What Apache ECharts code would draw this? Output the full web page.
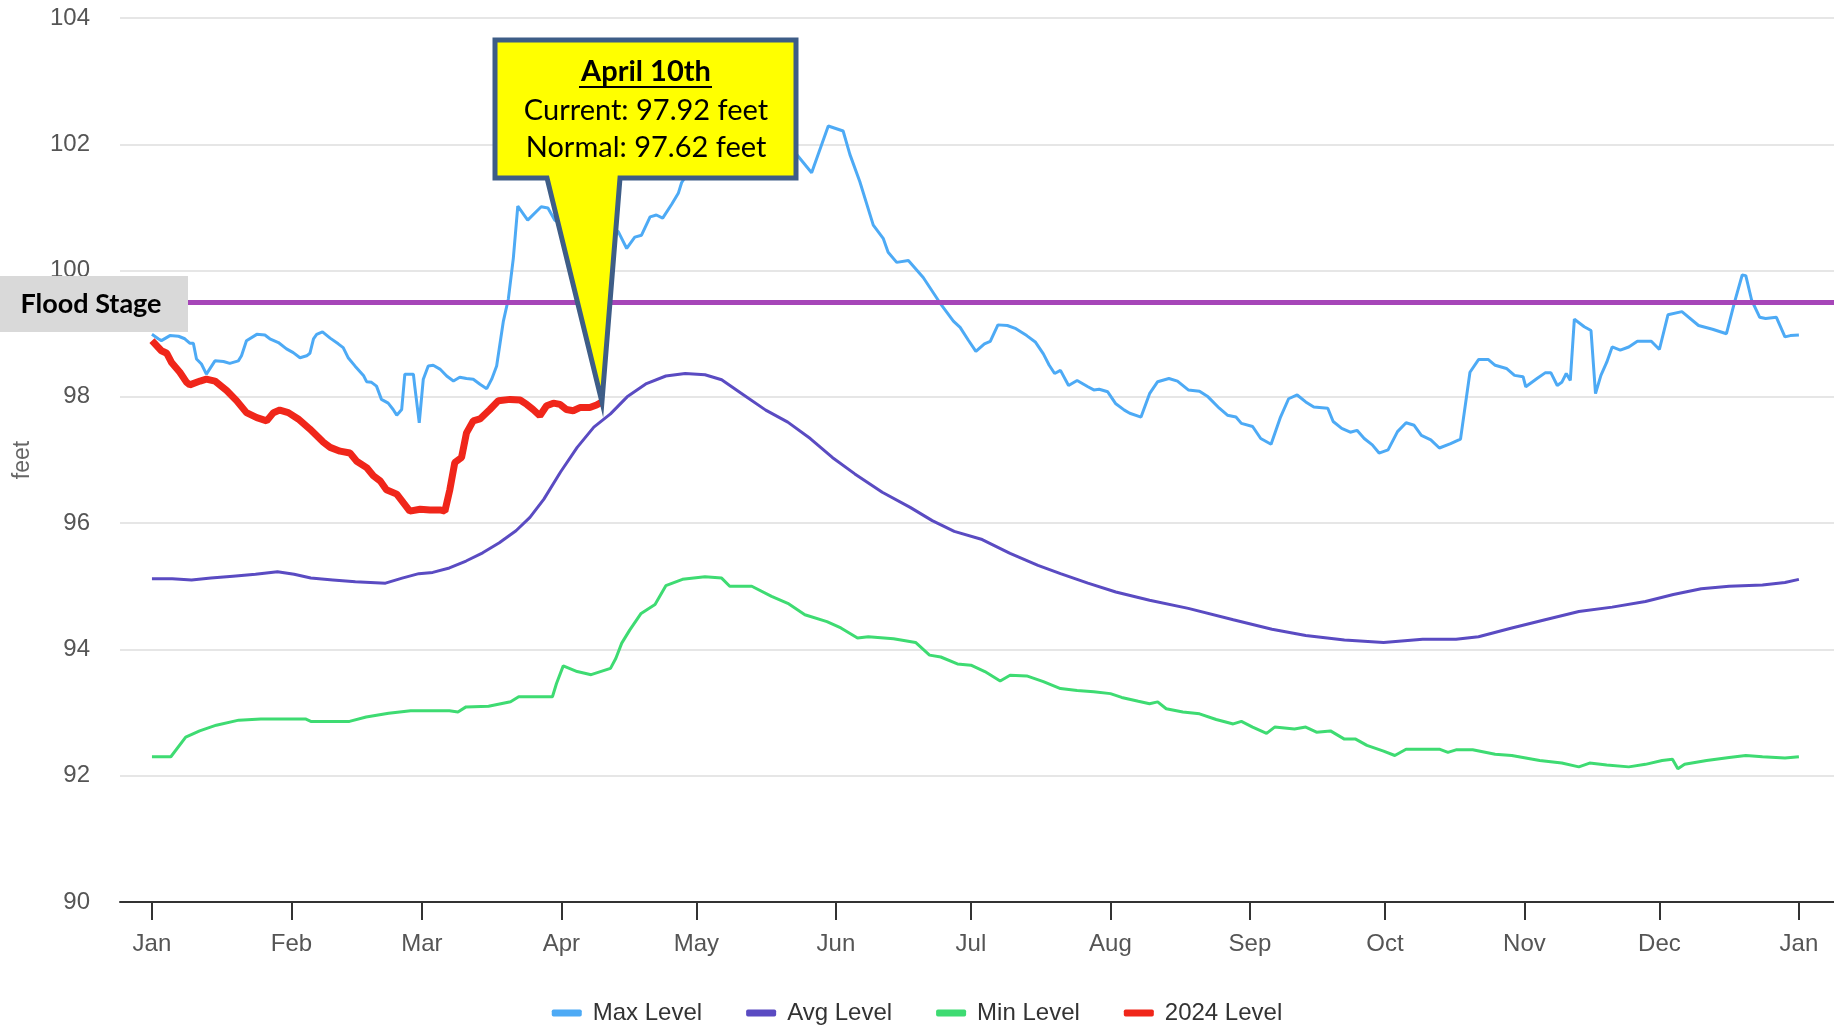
<!DOCTYPE html>
<html>
<head>
<meta charset="utf-8">
<script src="https://cdn.jsdelivr.net/npm/echarts@6/dist/echarts.min.js"></script>
<style>
    html, body { margin: 0; padding: 0; background: #fff; }
    #chart { width: 1834px; height: 1025px; }
</style>
</head>
<body>
<div id="chart"></div>
<script>
// day of year (0 = Jan 1, 2024 is a leap year) and level in feet
const monthStarts = [0, 31, 60, 91, 121, 152, 182, 213, 244, 274, 305, 335, 366];
const monthLabels = ['Jan', 'Feb', 'Mar', 'Apr', 'May', 'Jun', 'Jul', 'Aug', 'Sep', 'Oct', 'Nov', 'Dec', 'Jan'];
const floodStage = 99.5;
const calloutDay = 100;
const calloutValue = 97.92;

const maxLevel = [
    [0, 98.99], [1.4, 98.92], [2.1, 98.89], [4, 98.97], [5.9, 98.96], [7.3, 98.92], [8.4, 98.85], [9.2, 98.85],
    [9.9, 98.6], [11, 98.52], [12.1, 98.36], [14, 98.57], [15.9, 98.56], [17.3, 98.53], [19.2, 98.57], [19.9, 98.65],
    [21, 98.89], [23.3, 98.99], [25.1, 98.98], [26.2, 98.92], [28.1, 98.86], [29.9, 98.76], [31.4, 98.7], [32.9, 98.62],
    [34.4, 98.65], [35.1, 98.69], [35.9, 98.92], [36.6, 98.99], [37.9, 99.03], [39.6, 98.93], [41.4, 98.84], [42.5, 98.78],
    [43.6, 98.62], [45.1, 98.49], [47, 98.34], [47.7, 98.24], [48.8, 98.23], [49.9, 98.17], [51, 97.96], [52.5, 97.9],
    [53.6, 97.8], [54.4, 97.71], [55.5, 97.8], [56.2, 98.36], [58.1, 98.36], [58.4, 98.17], [59.4, 97.59], [60.3, 98.28],
    [61.4, 98.49], [62.5, 98.5], [64, 98.44], [65.5, 98.33], [67, 98.25], [68.4, 98.31], [69.9, 98.29], [71.4, 98.28],
    [72.9, 98.2], [74.4, 98.13], [75.5, 98.28], [76.6, 98.49], [78.1, 99.2], [79.2, 99.55], [80.3, 100.19], [81.3, 101.02],
    [83.5, 100.8], [86.5, 101.01], [88, 100.99], [89.5, 100.8], [95, 100.6], [100, 100.7], [103.6, 100.62], [105.5, 100.35],
    [107.3, 100.53], [108.8, 100.56], [110.7, 100.85], [112.1, 100.88], [113.5, 100.83], [115.5, 101.05], [117, 101.23],
    [117.7, 101.39], [118.4, 101.47], [121, 101.7], [125, 101.85], [129, 101.95], [133, 102.1], [137, 102.0], [140, 101.9],
    [142, 101.95], [146.6, 101.55], [150.3, 102.29], [153.6, 102.21], [155.1, 101.84], [157.3, 101.41], [160.3, 100.72],
    [162.5, 100.51], [163.6, 100.29], [165.5, 100.13], [168.1, 100.16], [171.4, 99.89], [175.1, 99.49], [178.1, 99.2],
    [179.6, 99.1], [181.4, 98.9], [183.1, 98.72], [185, 98.84], [186.3, 98.88], [188, 99.14], [190.1, 99.13], [192, 99.08],
    [194.4, 98.97], [196.3, 98.87], [198.1, 98.68], [199.4, 98.5], [200.6, 98.37], [201.9, 98.42], [203.7, 98.18],
    [205.6, 98.26], [208, 98.16], [209.3, 98.11], [210.5, 98.12], [212.4, 98.08], [214.2, 97.89], [216.1, 97.79],
    [217.3, 97.74], [219.8, 97.68], [221.7, 98.05], [223.5, 98.24], [226, 98.29], [227.9, 98.25], [230.3, 98.11],
    [232.8, 98.09], [234.7, 98], [237.2, 97.82], [239, 97.71], [240.9, 97.68], [242.1, 97.58], [244.6, 97.53],
    [246.4, 97.34], [248.7, 97.25], [250.8, 97.68], [252.6, 97.97], [254.5, 98.03], [256.4, 97.92], [258.2, 97.84],
    [261.3, 97.82], [262.5, 97.61], [264.4, 97.5], [266.3, 97.44], [267.8, 97.47], [269.4, 97.34], [271.2, 97.24],
    [272.7, 97.11], [274.7, 97.16], [276.8, 97.45], [278.7, 97.59], [280.5, 97.55], [282.1, 97.39], [284.2, 97.32],
    [286.1, 97.19], [288.6, 97.26], [290.8, 97.33], [292.9, 98.39], [294.8, 98.59], [297, 98.59], [298.5, 98.5],
    [301, 98.45], [302.8, 98.34], [304.7, 98.32], [305.3, 98.16], [307.8, 98.29], [309.6, 98.38], [310.9, 98.38],
    [312.3, 98.18], [313.3, 98.23], [314.3, 98.37], [315.2, 98.26], [316.1, 99.23], [318.3, 99.11], [319.8, 99.05],
    [320.8, 98.05], [322, 98.34], [323.3, 98.55], [324.5, 98.79], [326.3, 98.74], [328.2, 98.79], [330.1, 98.88],
    [333.2, 98.88], [335, 98.75], [336.9, 99.3], [340, 99.35], [343.7, 99.13], [346.8, 99.07], [349.9, 99],
    [351.7, 99.5], [353.4, 99.93], [354.2, 99.92], [355.5, 99.53], [357.3, 99.26], [358.6, 99.24], [361, 99.26],
    [362.9, 98.95], [364.1, 98.97], [366, 98.98]
];

const avgLevel = [
    [0, 95.12], [4.5, 95.12], [8.8, 95.1], [13.1, 95.13], [18, 95.16], [23, 95.19], [27.9, 95.23], [31.6, 95.19],
    [35.3, 95.13], [40.2, 95.1], [45.2, 95.07], [51.9, 95.05], [55.6, 95.13], [59.3, 95.2], [62.4, 95.22], [66.1, 95.29],
    [69.8, 95.4], [73.5, 95.53], [77.2, 95.69], [80.9, 95.88], [84, 96.09], [87.1, 96.38], [90.8, 96.81], [94.5, 97.2],
    [98.2, 97.52], [101.9, 97.73], [105.6, 98.0], [109.9, 98.21], [114.2, 98.33], [118.5, 98.37], [122.9, 98.35],
    [126.6, 98.27], [131.5, 98.03], [136.4, 97.79], [141.3, 97.6], [146.3, 97.34], [151.2, 97.04], [156.2, 96.78],
    [162.3, 96.49], [168.5, 96.25], [173.4, 96.04], [178.3, 95.87], [184.5, 95.74], [190.7, 95.52], [196.9, 95.33],
    [201.9, 95.2], [208, 95.05], [214.2, 94.91], [221.7, 94.78], [230.3, 94.65], [240.3, 94.47], [248.9, 94.32],
    [256.4, 94.22], [265, 94.15], [273.7, 94.11], [282.4, 94.16], [289.8, 94.16], [294.8, 94.2], [302.2, 94.34],
    [309.6, 94.47], [317.1, 94.6], [324.5, 94.67], [331.9, 94.76], [338.1, 94.87], [344.3, 94.96], [350.5, 95.0],
    [357.9, 95.02], [362.9, 95.06], [366, 95.11]
];

const minLevel = [
    [0, 92.3], [4.2, 92.3], [7.5, 92.61], [10.6, 92.71], [14.3, 92.8], [19.3, 92.88], [24.2, 92.9], [34.1, 92.9],
    [35.3, 92.86], [43.9, 92.86], [47.6, 92.93], [52.6, 92.99], [57.5, 93.03], [66.1, 93.03], [68, 93.01], [69.8, 93.09],
    [74.8, 93.1], [79.7, 93.17], [81.5, 93.25], [89, 93.25], [89.9, 93.46], [91.4, 93.74], [94.5, 93.65], [97.6, 93.6],
    [101.9, 93.7], [103.1, 93.86], [104.4, 94.1], [106.2, 94.31], [108.7, 94.57], [111.8, 94.71], [114.2, 95.01],
    [117.9, 95.11], [122.9, 95.15], [126.6, 95.13], [128.4, 95.0], [133.3, 95.0], [137.7, 94.84], [141.3, 94.73],
    [145.1, 94.55], [150, 94.44], [153.1, 94.34], [156.8, 94.18], [159.2, 94.2], [164.8, 94.17], [169.7, 94.11],
    [172.8, 93.91], [175.3, 93.88], [179, 93.77], [182, 93.75], [185.1, 93.65], [188.5, 93.5], [190.7, 93.59],
    [194.4, 93.58], [198.1, 93.49], [201.9, 93.38], [205.6, 93.35], [209.3, 93.33], [213, 93.3], [215.5, 93.24],
    [219.2, 93.18], [221.7, 93.14], [223.5, 93.17], [225.4, 93.06], [229.1, 93.01], [232.8, 92.98], [236.5, 92.89],
    [240.3, 92.82], [242.1, 92.86], [244.6, 92.77], [247.7, 92.67], [249.5, 92.77], [253.9, 92.74], [256.4, 92.77],
    [258.8, 92.69], [261.9, 92.71], [265, 92.58], [267.5, 92.58], [270, 92.48], [273.7, 92.39], [276.2, 92.32],
    [278.7, 92.42], [282.4, 92.42], [286.1, 92.42], [288, 92.37], [289.8, 92.41], [293.5, 92.41], [298.5, 92.34],
    [302.2, 92.32], [308.4, 92.24], [313.3, 92.2], [317.1, 92.14], [319.5, 92.2], [323.3, 92.17], [328.2, 92.14],
    [331.9, 92.18], [335.6, 92.24], [337.9, 92.26], [339.1, 92.11], [340.6, 92.18], [345.5, 92.24], [350.5, 92.29],
    [354.2, 92.32], [357.9, 92.3], [362.9, 92.28], [366, 92.3]
];

const level2024 = [
    [0, 98.89], [2.1, 98.73], [3.3, 98.69], [4.4, 98.54], [6.2, 98.39], [7.7, 98.23], [8.4, 98.19], [10.7, 98.25],
    [12.1, 98.28], [14, 98.25], [16.6, 98.1], [18.8, 97.94], [21, 97.75], [23.3, 97.67], [25.5, 97.62], [27, 97.75],
    [28.4, 97.79], [30.3, 97.75], [32.5, 97.65], [35.1, 97.49], [38.1, 97.28], [39.6, 97.2], [41.8, 97.14], [44, 97.11],
    [45.5, 96.98], [47.7, 96.88], [49.2, 96.75], [50.7, 96.67], [52.1, 96.53], [54.4, 96.46], [55.9, 96.32], [57.3, 96.19],
    [59.6, 96.22], [61.8, 96.21], [64, 96.21], [65.1, 96.19], [66.2, 96.53], [67.3, 96.96], [68.8, 97.04], [69.9, 97.43],
    [71.4, 97.62], [72.9, 97.65], [75.1, 97.8], [77, 97.94], [79.6, 97.96], [81.8, 97.95], [83.3, 97.88], [84.7, 97.8],
    [86.2, 97.7], [87.7, 97.86], [89.2, 97.9], [90.7, 97.88], [92.1, 97.8], [93.6, 97.78], [95.1, 97.83], [97.3, 97.83],
    [98.8, 97.87], [100, 97.92]
];

const chart = echarts.init(document.getElementById('chart'));
chart.setOption({
    animation: false,
    textStyle: { fontFamily: 'Liberation Sans' },
    color: ['#4daaf5', '#5a4bc2', '#3edb72', '#f0261a'],
    grid: { left: 120, right: 0, top: 18, bottom: 123, containLabel: false, outerBoundsMode: 'none' },
    legend: {
        top: 996,
        left: 'center',
        icon: 'roundRect',
        itemWidth: 30,
        itemHeight: 7,
        itemGap: 44,
        textStyle: { fontSize: 24, color: '#333', padding: [0, 0, 0, 6] }
    },
    xAxis: {
        type: 'value',
        min: -7.1,
        max: 373.8,
        axisLine: { show: true, lineStyle: { color: '#333', width: 2 } },
        axisTick: { show: true, customValues: monthStarts, length: 18, lineStyle: { color: '#333', width: 2 } },
        axisLabel: {
            customValues: monthStarts,
            formatter: v => monthLabels[monthStarts.indexOf(v)],
            fontSize: 24,
            color: '#555',
            margin: 30
        },
        splitLine: { show: false }
    },
    yAxis: {
        type: 'value',
        min: 90,
        max: 104,
        interval: 2,
        name: 'feet',
        nameLocation: 'middle',
        nameGap: 86,
        nameTextStyle: { fontSize: 23, color: '#666' },
        axisLine: { show: false },
        axisTick: { show: false },
        axisLabel: { fontSize: 24, color: '#555', margin: 30 },
        splitLine: { lineStyle: { color: '#e6e6e6', width: 2 } }
    },
    series: [
        { name: 'Max Level', type: 'line', data: maxLevel, showSymbol: false, lineStyle: { width: 3 } },
        { name: 'Avg Level', type: 'line', data: avgLevel, showSymbol: false, lineStyle: { width: 3 } },
        { name: 'Min Level', type: 'line', data: minLevel, showSymbol: false, lineStyle: { width: 3 } },
        {
            name: '2024 Level', type: 'line', data: level2024, showSymbol: false, z: 5,
            lineStyle: { width: 7 },
            markLine: {
                silent: true,
                symbol: ['none', 'none'],
                label: { show: false },
                lineStyle: { color: '#a646b8', width: 5, type: 'solid' },
                data: [{ yAxis: floodStage }]
            }
        }
    ]
});

// callout pointing at the last 2024 reading
const tip = chart.convertToPixel({ xAxisIndex: 0, yAxisIndex: 0 }, [calloutDay, calloutValue]);
const box = { left: 495, right: 796, top: 40, bottom: 178 };
chart.setOption({
    graphic: [
        { type: 'rect', z: 100, shape: { x: 0, y: 276, width: 188, height: 56 }, style: { fill: '#d9d9d9' } },
        {
            type: 'text', z: 101,
            style: { text: 'Flood Stage', x: 91, y: 304, textAlign: 'center', textVerticalAlign: 'middle',
                font: 'bold 27px Lato', fill: '#000' }
        },
        {
            type: 'polygon', z: 100,
            shape: {
                points: [
                    [box.left, box.top], [box.right, box.top], [box.right, box.bottom], [620, box.bottom],
                    [tip[0], tip[1]], [547, box.bottom], [box.left, box.bottom]
                ]
            },
            style: { fill: '#ffff00', stroke: '#3e5d87', lineWidth: 5, lineJoin: 'miter' }
        },
        {
            type: 'text', z: 101,
            style: { text: 'April 10th', x: 646, y: 72, textAlign: 'center', textVerticalAlign: 'middle',
                font: 'bold 29px Lato', fill: '#000' }
        },
        { type: 'line', z: 101, shape: { x1: 579, y1: 87, x2: 712, y2: 87 }, style: { stroke: '#000', lineWidth: 2 } },
        {
            type: 'text', z: 101,
            style: { text: 'Current: 97.92 feet', x: 646, y: 111, textAlign: 'center', textVerticalAlign: 'middle',
                font: '29px Lato', fill: '#000' }
        },
        {
            type: 'text', z: 101,
            style: { text: 'Normal: 97.62 feet', x: 646, y: 148, textAlign: 'center', textVerticalAlign: 'middle',
                font: '29px Lato', fill: '#000' }
        }
    ]
});
</script>
</body>
</html>
